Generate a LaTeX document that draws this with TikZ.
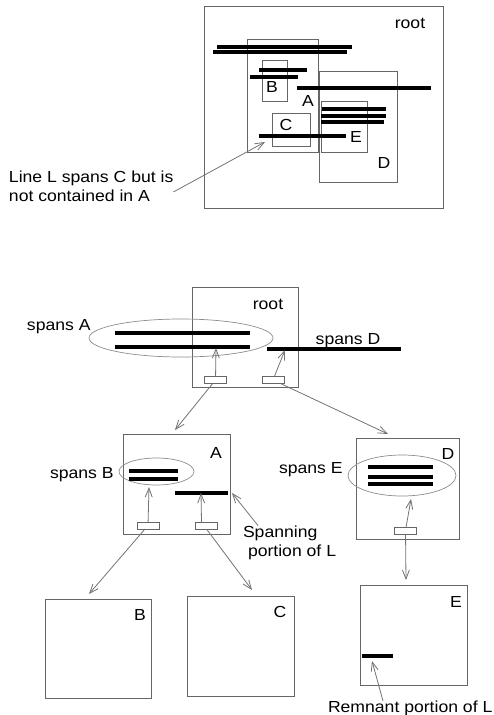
\documentclass[tikz,border=0pt]{standalone}
\usepackage{fontspec}
\setmainfont{Liberation Sans}[FakeStretch=1.1]
\usetikzlibrary{shapes,arrows.meta}

\begin{document}
\begin{tikzpicture}[x=1pt,y=-1pt,
                every path/.style={>={Straight Barb[length=9pt,width=7pt]}},
                every node/.style={font=\fontsize{16}{19}\selectfont,inner sep=0pt,outer sep=0pt},
                box/.style 2 args={draw=black!60,line width=1pt,minimum width=#1,minimum height=#2},
                slot/.style={draw=black!60,line width=0.8pt,minimum width=22pt,minimum height=7pt},
                ell/.style 2 args={draw=black!45,line width=0.7pt,ellipse,minimum width=#1,minimum height=#2},
                span/.style={line width=3.8pt},
                conn/.style={->,draw=black!55,line width=0.8pt}]
  \useasboundingbox (0,0) rectangle (493,715);

  % the space with its regions
  \node[box={239pt}{202pt}] (root1) at (323.5,107)  {};
  \node[box={71pt}{113pt}]  (A1)    at (282.5,95.5) {};
  \node[box={25pt}{41pt}]   (B1)    at (274.5,80.5) {};
  \node[box={38pt}{33pt}]   (C1)    at (291,129.5)  {};
  \node[box={78pt}{111pt}]  (D1)    at (358,126.5)  {};
  \node[box={46pt}{51pt}]   (E1)    at (344,126.5)  {};
  \node (root1l) at (410,23)  {root};
  \node (A1l)    at (308,101) {A};
  \node (B1l)    at (272,87)  {B};
  \node (C1l)    at (286,125) {C};
  \node (D1l)    at (384,163) {D};
  \node (E1l)    at (356,137) {E};
  \draw[span] (217,47) -- (352,47);
  \draw[span] (213,52) -- (347,52);
  \draw[span] (259,70) -- (307,70);
  \draw[span] (250,77) -- (298,77);
  \draw[span] (297,88) -- (431,88);
  \draw[span] (322,109) -- (386,109);
  \draw[span] (321,116) -- (386,116);
  \draw[span] (321,122) -- (384,122);
  \draw[span] (259,136) -- (346,136);
  \coordinate (Ltip) at (265,142);
  \node[anchor=west,align=left] (note) at (9,186) {Line L spans C but is\\not contained in A};
  \draw[conn] ([yshift=-6pt]note.east) -- (Ltip);

  % the tree
  \node[box={106pt}{100pt}] (root2) at (245,337)    {};
  \node[box={107pt}{100pt}] (A2)    at (176.5,484)  {};
  \node[box={103pt}{101pt}] (D2)    at (407.5,488.5){};
  \node[box={106pt}{99pt}]  (B2)    at (98,648.5)   {};
  \node[box={107pt}{100pt}] (C2)    at (240.5,646)  {};
  \node[box={107pt}{100pt}] (E2)    at (413.5,635)  {};
  \node (root2l) at (268,304) {root};
  \node (A2l)    at (216,453) {A};
  \node (D2l)    at (448,454) {D};
  \node (B2l)    at (140,615) {B};
  \node (C2l)    at (280,612) {C};
  \node (E2l)    at (456,602) {E};

  \node[slot] (r1) at (215.5,380) {};
  \node[slot] (r2) at (273,380)   {};
  \node[slot] (a1) at (148,525.5) {};
  \node[slot] (a2) at (206.5,525.5) {};
  \node[slot] (d1) at (405.5,530.5) {};

  \node[ell={184pt}{38pt}] (eA) at (181,338)     {};
  \node[ell={75pt}{27pt}]  (eB) at (156.5,471.5) {};
  \node[ell={108pt}{41pt}] (eE) at (402,475.5)   {};
  \draw[span] (115,333) -- (250,333);
  \draw[span] (115,347) -- (250,347);
  \draw[span] (267,349) -- (401,349);
  \draw[span] (129,471) -- (178,471);
  \draw[span] (129,479) -- (178,479);
  \draw[span] (175,493) -- (228,493);
  \draw[span] (368,467) -- (433,467);
  \draw[span] (368,477) -- (433,477);
  \draw[span] (368,484) -- (433,484);
  \draw[span] (362,656) -- (393,656);

  \node[anchor=base west] (sA) at (27,330)    {spans A};
  \node[anchor=base]      (sD) at (348,344.5) {spans D};
  \node[anchor=base west] (sB) at (50,478.5)  {spans B};
  \node[anchor=base west] (sE) at (279,473.5) {spans E};
  \node[anchor=west,align=left] (spn) at (243,542.5) {Spanning\\\hspace{5pt}portion of L};
  \node[anchor=base west] (rem) at (328,712.5) {Remnant portion of L};

  \coordinate (tA)  at (216,348);
  \coordinate (tD)  at (285,350);
  \coordinate (tA2) at (175,430);
  \coordinate (tD2) at (388,434);
  \coordinate (tB)  at (149,487);
  \coordinate (tL)  at (201,493);
  \coordinate (tLe) at (232,493);
  \coordinate (tB2) at (89,594);
  \coordinate (tC2) at (252,590);
  \coordinate (tE)  at (411,499);
  \coordinate (tE2) at (406,580);
  \coordinate (tR)  at (372,661);

  \draw[conn] (r1) -- (tA);
  \draw[conn] (r2) -- (tD);
  \draw[conn] (r1) -- (tA2);
  \draw[conn] (r2) -- (tD2);
  \draw[conn] (a1) -- (tB);
  \draw[conn] ([xshift=-5pt]a2.north) -- (tL);
  \draw[conn] ([xshift=15pt]spn.north west) -- (tLe);
  \draw[conn] (a1) -- (tB2);
  \draw[conn] (a2.south) -- (tC2);
  \draw[conn] (d1) -- (tE);
  \draw[conn] (d1) -- (tE2);
  \draw[conn] ([xshift=55pt]rem.north west) -- (tR);
\end{tikzpicture}
\end{document}
